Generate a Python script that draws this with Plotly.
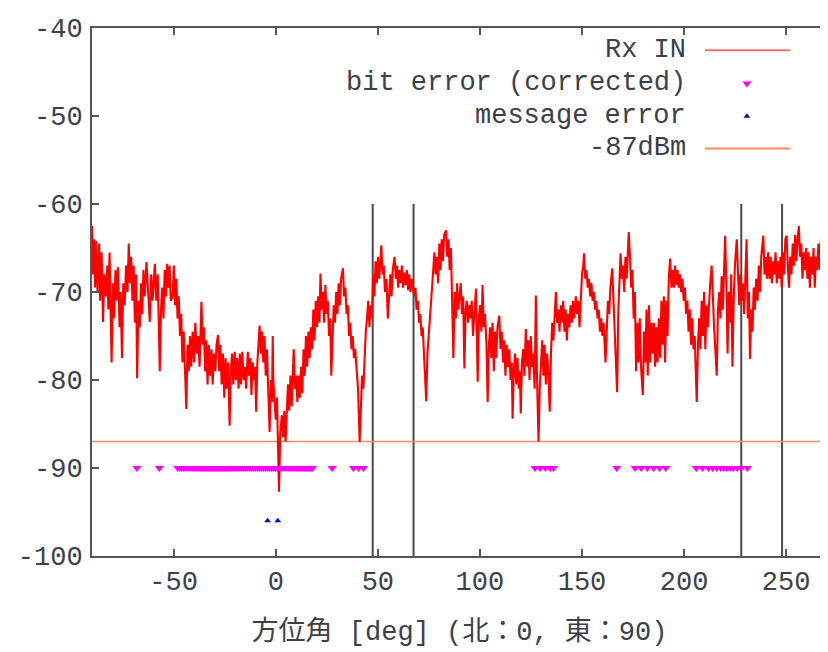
import plotly.graph_objects as go

# ---------------- data ----------------
rx_deg = [
 -90, -89.5, -89, -88.5, -88, -87.3, -86.5, -86, -85.3, -84.6, -84, -83.3, -82.5, -82, -81.4, -80.9, -80.4,
 -79.8, -79.2, -78.5, -78, -77.3, -76.5, -76, -75.3, -74.7, -74, -73.3, -72.6, -72, -71.4, -70.8, -70.2,
 -69.6, -69, -68.4, -67.9, -67.2, -66.6, -66, -65.4, -64.8, -64.2, -63.3, -62.5, -61.7, -61, -60.3,
 -59.2, -58.5, -57.8, -57.3, -56.8, -56.2, -55.6, -55, -54.4, -53.8, -53.2, -52.6, -52, -51.4,
 -50.5, -49.9, -49.3, -48.7, -48.1, -47.5, -46.9, -46.3, -45.7, -45.1, -44.5, -43.8, -43.2, -42.6,
 -42, -41.4, -40.7, -40, -39.4, -38.7, -38, -37.3, -36.4, -35.8, -35.2, -34.6, -34, -33.4, -32.8,
 -32.2, -31.5, -30.9, -30.3, -29.6, -29, -28.3, -27.7, -27.1, -26.5, -25.9, -25.2, -24.6, -24, -23.3,
 -22.6, -22, -21.4, -20.8, -20.1, -19.5, -18.9, -18.2, -17.6, -17, -16.4, -15.7, -15.1, -14.5, -13.7,
 -13.1, -12.4, -11.9, -11.3, -10.7, -10.1, -9.6, -9, -8.4, -7.9, -7.3, -6.7, -6.1, -5.5, -4.9, -4.3,
 -3.7, -3.0, -2.4, -1.8, -1.5, -1.2, -0.6, 0, 0.6, 1.2, 1.6, 2.2, 3.0,
 3.6, 4.2, 4.8, 5.4, 6.0, 6.6, 7.2, 7.8, 8.4, 8.8, 9.4, 10.0, 10.6, 11.2, 11.8, 12.4, 13.0, 13.6,
 14.2, 14.8, 15.4, 16.0, 16.6, 17.2, 17.8, 18.4, 19.0, 19.6, 20.2, 20.8, 21.4, 21.9, 22.5, 23.1,
 23.7, 24.3, 24.9, 25.5, 26.1, 26.7, 27.2, 27.8, 28.4, 29.0, 29.6, 30.2, 30.8, 31.4, 32.0, 32.9,
 33.5, 34.1, 34.7, 35.3, 35.9, 36.5, 37.1, 37.7, 38.3, 38.9, 39.5, 40.3, 41.1, 41.7, 42.3, 42.9,
 43.5, 44.1, 44.7, 45.3, 45.9, 46.5, 47.1, 47.7, 48.3, 48.9, 49.5, 50.1, 50.7, 51.3, 51.7, 52.3,
 52.9, 53.5, 54.2, 54.9, 55.5, 56.1, 56.7, 57.3, 58.2, 58.8, 59.4, 60.0, 60.6, 61.2, 61.8, 62.4,
 63.0, 63.6, 64.2, 64.8, 65.4, 66.0, 66.6, 67.2, 67.8, 68.4, 69.0, 69.6, 70.2, 70.8, 71.4, 72.0,
 72.6, 73.2, 73.7, 74.3, 74.9, 75.5, 76.1, 76.7, 77.3, 77.7, 78.3, 78.9, 79.5, 80.1, 80.7, 81.3,
 81.9, 82.5, 83.4, 84.0, 84.6, 85.2, 85.8, 86.4, 87.0, 87.6, 88.2, 88.8, 89.4, 90.0,
 90.6, 91.2, 91.8, 92.4, 93.0, 93.6, 94.2, 94.8, 95.4, 96.0, 96.6, 97.3, 98.1, 98.9, 99.5, 100.1,
 100.7, 101.3, 101.9, 102.5, 103.2, 103.8, 104.4, 105.0, 105.6, 106.2, 106.8, 107.4, 108.0, 108.6,
 109.5, 110.1, 110.7, 111.3, 111.9, 112.5, 113.1, 113.7, 114.4, 115.0, 115.6, 116.0, 116.6, 117.2,
 117.8, 118.4, 119.0, 119.6, 120.0, 120.6, 121.2, 121.8, 122.5, 123.1, 123.7, 124.3, 124.9, 125.5,
 126.1, 126.8, 127.4, 128.0, 128.7, 129.3, 129.9, 130.5, 131.1, 131.7, 132.3, 132.9, 133.5, 134.2,
 134.8, 135.4, 136.0, 136.6, 137.2, 137.8, 138.4, 139.0, 139.6, 140.2, 140.8, 141.4, 142.0, 142.6,
 143.2, 143.8, 144.4, 145.0, 145.6, 146.2, 147.0, 147.6, 148.2, 148.8, 149.4, 150.0, 150.6, 151.0,
 151.6, 152.2, 152.8, 153.4, 154.0, 154.6, 155.2, 155.8, 156.4, 157.0, 157.6, 158.2, 158.8, 159.4,
 160.0, 160.6, 161.5, 162.1, 162.7, 163.3, 163.9, 164.8, 165.4, 166.0, 166.6, 167.2, 167.8, 168.4,
 168.9, 169.5, 170.1, 170.7, 171.3, 171.9, 172.9,
 173.5, 174.1, 174.7, 175.3, 175.9, 176.5, 177.1, 177.7, 178.3, 178.9, 179.8, 180.4, 181.0, 181.6,
 182.2, 182.8, 183.4, 184.0, 184.6, 185.2, 185.8, 186.4, 187.0, 187.6, 188.3, 188.9, 189.5, 190.1,
 190.7, 191.3, 191.9, 192.5, 193.2, 193.8, 194.4, 195.0, 195.6, 196.2, 196.8, 197.4, 198.0, 198.6,
 199.2, 199.8, 200.4, 201.0, 201.6, 202.2, 202.8, 203.4, 204.0, 204.6, 205.2, 205.8, 206.2, 206.8,
 207.4, 208.0, 208.6, 209.2, 209.8, 210.4, 211.0, 211.6, 212.2, 212.8, 213.5, 214.1, 214.7, 215.4,
 216.0, 216.6, 217.2, 217.8, 218.4, 219.0, 219.6, 220.1, 220.7, 221.3, 221.9, 222.5, 223.1, 223.7,
 224.3, 224.9, 225.8, 226.4, 227.0, 227.6, 228.2, 228.8, 229.4, 230.0, 230.6, 231.2, 231.8, 232.3,
 232.9, 233.5, 234.1, 234.7, 235.3, 236.0, 236.6, 237.2, 237.8, 238.8, 239.4, 240.0, 240.6, 241.2,
 241.8, 242.4, 243.0, 243.6, 244.2, 244.8, 245.4, 246.0, 246.6, 247.2, 247.8, 248.4, 249.0, 249.6,
 250.2, 250.8, 251.4, 252.0, 252.6, 253.2, 253.8, 254.4, 255.0, 255.6, 256.2, 256.8, 257.4, 258.0,
 258.6, 259.2, 259.8, 260.4, 261.0, 261.6, 262.2, 262.8, 263.4, 264.0, 264.6, 265.2, 265.8, 266.4,
 267.0, 267.6, 268.2, 268.8, 269.4, 270.0,
]
rx_dbm = [
 -62.5, -68, -64, -69.5, -64.2, -70, -64.5, -71, -65.5, -73.4, -68, -70.5, -67, -72, -65.5, -74, -78,
 -69, -73, -67.5, -71, -67.2, -74, -70, -77.5, -69, -71.5, -67, -70, -64.5, -69, -66, -71,
 -67, -73.5, -68, -79.8, -71, -74, -69, -72.5, -67.5, -70.5, -66.6, -70, -73.4, -68, -71,
 -66.8, -71, -68, -73, -79, -72, -69.5, -73, -67.5, -70.5, -66.8, -69.5, -67, -71,
 -70.5, -67, -71.5, -68.5, -73, -70.5, -75, -72.5, -78, -74.5, -79.5, -83.3, -76, -79,
 -75, -78.5, -74.5, -78, -73.5, -77, -75, -78.5, -71.1, -76, -74, -79, -75.5, -80.5, -76,
 -79.5, -76.5, -80.5, -77, -79, -76, -74.9, -79, -76, -80.5, -77, -82, -77.5, -81, -78,
 -85.2, -79, -77, -80.5, -76.8, -80, -77.5, -81, -77, -80.5, -76.8, -80, -78.5, -81, -76.8,
 -79.5, -77.5, -81.7, -78, -80, -78.5, -83.6, -78, -76, -73.8, -77, -74.5, -78, -75, -79.5, -76.5,
 -81, -85.9, -80, -82.5, -75, -80, -82.5, -84.5, -82, -87, -92.7, -86, -84,
 -86.5, -83.5, -87, -84, -80.5, -83.5, -79.5, -83, -78.5, -76.5, -81, -79.5, -82.5, -79.5, -82, -78.5, -81.5, -76.5,
 -79.5, -75, -78.5, -74.5, -77.5, -74, -76.5, -72, -75.5, -71, -74, -70.5, -73.5, -67.9, -72, -70,
 -73.5, -69.2, -72.5, -71, -75, -73, -79.5, -74, -71.5, -73.5, -70, -72.5, -69, -71.5, -68.5, -67.3,
 -70.5, -69.5, -72.5, -71.5, -75, -73.5, -76.5, -75, -77.5, -76.5, -79, -81, -87, -82, -79.5, -81,
 -77.6, -74.5, -73, -71, -74, -71.5, -73, -68, -70.5, -66.5, -69, -66, -68.5, -65.5, -64.7, -68,
 -67, -70, -68.5, -73, -69.5, -68, -70.5, -67.5, -66, -68.5, -67, -69.5, -67.5, -69, -67, -69.5,
 -67.8, -69.2, -67.5, -69.8, -68, -70, -68.5, -69.5, -70.5, -69.5, -72, -71, -73.5, -72.5, -75, -74,
 -77, -79, -82.4, -77, -74.5, -73, -71, -69, -66.5, -65.5, -68, -66, -69, -64.5, -67.5, -64,
 -66.5, -63.5, -63, -66, -64, -67.5, -65, -70.5, -77.5, -70, -73, -69, -72, -70.5,
 -69, -72.5, -70.5, -78.7, -72, -71, -73.5, -71.5, -73, -71, -75, -72.5, -69.6, -80.2, -73, -71.5,
 -74.5, -69.2, -74, -72.5, -76, -82.5, -76, -74, -77.5, -73.5, -79, -74.5, -77.5, -74,
 -72.7, -76.5, -74.5, -78, -75.5, -79.5, -76, -78.5, -76.5, -80, -78, -84.4, -79, -77,
 -80.5, -77.5, -81, -79, -83.8, -78, -76.5, -79.5, -74.2, -78.5, -75.5, -80, -75, -78.5,
 -77, -81, -70.4, -80, -87, -81, -78, -75.5, -79.5, -76, -80.5, -77, -79, -83.6,
 -77, -73.5, -75.5, -72, -70, -73.5, -72, -74.5, -71.5, -73.5, -71, -74.5, -72, -75.5,
 -72.5, -74, -71.5, -73.5, -71, -73, -70.5, -72.5, -71, -74, -70.8, -68, -67, -65.6,
 -68.5, -67.5, -69.5, -68.5, -70.5, -69, -71, -70, -72, -71, -73, -72, -74.5, -73,
 -75, -73.5, -78, -73, -71, -72.5, -69.5, -67.3, -71, -74, -77, -81.4, -72, -68,
 -65.6, -68.5, -67, -70, -66, -68.5, -63.2,
 -66, -69.5, -67.5, -73, -70, -79, -73.5, -78, -73, -78.5, -81.7, -74.5, -78, -72,
 -79.5, -71.5, -78, -73.5, -77, -73.5, -78.5, -74, -78, -73, -77.5, -71, -76, -70.5,
 -78, -71, -75, -68.5, -66.2, -69.5, -67.5, -69.5, -67, -69.2, -67.5, -69.5, -68, -70,
 -68.5, -71, -69.5, -72.5, -71, -74.5, -72, -76, -73, -76.5, -75, -79, -82.5, -76,
 -73, -76.5, -71, -75, -70, -76.5, -71.5, -74, -70.5, -69, -67, -71.5, -74, -77,
 -79.5, -72, -70, -73, -68.2, -72, -68, -63.6, -69, -77, -70, -73.5, -68, -78.5,
 -71, -67, -64, -69, -71.5, -68, -71, -69, -72.5, -68.5, -64, -73, -70, -77.6,
 -72, -74.5, -69.5, -72, -68.5, -71, -67, -70, -66, -63.6, -68, -66, -68.5, -65.5,
 -68.5, -66, -69, -66.5, -68, -65.5, -69, -66.5, -68.5, -66, -69.5, -65.5, -68, -64,
 -63.6, -67, -69.5, -66, -68, -64.5, -67, -63.5, -66.5, -64, -62.5, -66, -64.5, -68.5,
 -65.5, -67.5, -65, -68.5, -65.5, -69.5, -66, -68, -65, -69.5, -66, -67.5, -64.5, -67.5,
 -64, -69, -65, -67, -64, -66.5,
]

bit_err_deg = [
 -68, -57,
 -48, -47, -46, -45, -44, -43, -42, -41, -40, -39, -38, -37, -36, -35, -34, -33, -32, -31, -30,
 -29, -28, -27, -26, -25, -24, -23, -22, -21, -20, -19, -18, -17, -16, -15, -14, -13, -12, -11,
 -10, -9, -8, -7, -6, -5, -4, -3, -2, -1, 0, 1, 2, 3, 4, 5, 6, 7, 8, 9, 10, 11, 12, 13, 14, 15,
 16, 17, 18,
 27.6, 38, 40.5, 43,
 127, 129.5, 132, 134.5, 136,
 167,
 176, 179, 182, 185, 188, 191,
 206, 209, 212, 214, 216, 218, 219.5, 221, 222.5, 224, 226, 228, 231,
]
bit_err_dbm = [-90] * len(bit_err_deg)

msg_err_deg = [-4, 1]
msg_err_dbm = [-96, -96]

threshold_dbm = -87
threshold_deg = [-90, 270]

sector_deg = [47.5, 67.5, 228, 248]
sector_dbm = [-100, -60]

x_ticks = [-50, 0, 50, 100, 150, 200, 250]
y_ticks = [-100, -90, -80, -70, -60, -50, -40]

legend_labels = ["Rx IN", "bit error (corrected)", "message error", "-87dBm"]

# ---------------- figure ----------------
RED = "#ff0000"
MAG = "#ff00ff"
BLUE = "#0010c0"
ORANGE = "#ff8c5a"
FRAME = "#555555"
TXT = "#3c4048"
MONO = "Liberation Mono, DejaVu Sans Mono, monospace"

fig = go.Figure()

# vertical sector lines
vx, vy = [], []
for d in sector_deg:
    vx += [d, d, None]
    vy += [sector_dbm[0], sector_dbm[1], None]
fig.add_trace(go.Scatter(x=vx, y=vy, mode="lines", line=dict(color="#4a4a4a", width=2),
                         showlegend=False, hoverinfo="skip"))

fig.add_trace(go.Scatter(x=threshold_deg, y=[threshold_dbm] * len(threshold_deg), mode="lines",
                         line=dict(color=ORANGE, width=1.5), name="-87dBm", showlegend=False))

fig.add_trace(go.Scatter(x=rx_deg, y=rx_dbm, mode="lines", line=dict(color=RED, width=2.1),
                         name="Rx IN", showlegend=False))

fig.add_trace(go.Scatter(x=bit_err_deg, y=bit_err_dbm, mode="markers",
                         marker=dict(symbol="triangle-down", size=8, color=MAG),
                         name="bit error (corrected)", showlegend=False))

fig.add_trace(go.Scatter(x=msg_err_deg, y=msg_err_dbm, mode="markers",
                         marker=dict(symbol="triangle-up", size=6, color=BLUE),
                         name="message error", showlegend=False))

# gnuplot-style key (text right, sample left), drawn on an invisible overlay axis [0,1]
rows = [0.958, 0.895, 0.833, 0.772]
key_text_x = 0.811
key_line = [0.834, 0.950]
key_mark_x = 0.891
for lab, ry in zip(legend_labels, rows):
    fig.add_annotation(x=key_text_x, y=ry, xref="paper", yref="paper", text=lab, showarrow=False,
                       xanchor="right", yanchor="middle", font=dict(family=MONO, size=27, color=TXT))
fig.add_trace(go.Scatter(x=key_line, y=[rows[0]] * 2, xaxis="x2", yaxis="y2", mode="lines",
                         line=dict(color="#f07070", width=2), showlegend=False, hoverinfo="skip"))
fig.add_trace(go.Scatter(x=key_line, y=[rows[3]] * 2, xaxis="x2", yaxis="y2", mode="lines",
                         line=dict(color=ORANGE, width=2), showlegend=False, hoverinfo="skip"))
fig.add_trace(go.Scatter(x=[key_mark_x], y=[rows[1]], xaxis="x2", yaxis="y2", mode="markers",
                         marker=dict(symbol="triangle-down", size=8, color=MAG),
                         showlegend=False, hoverinfo="skip"))
fig.add_trace(go.Scatter(x=[key_mark_x], y=[rows[2]], xaxis="x2", yaxis="y2", mode="markers",
                         marker=dict(symbol="triangle-up", size=6, color=BLUE),
                         showlegend=False, hoverinfo="skip"))

axis_common = dict(showline=True, linecolor=FRAME, linewidth=2, mirror="ticks", ticks="inside",
                   ticklen=7, tickwidth=1.5, tickcolor=FRAME, showgrid=False, zeroline=False,
                   automargin=False, tickfont=dict(family=MONO, size=27, color=TXT))

# the page body adds an 8px margin; the figure is sized so the plot frame lands where the
# reference frame is (x 92..827, y 28..556 in the 828x652 window)
fig.update_layout(
    width=820, height=644,
    margin=dict(l=84, r=1, t=20, b=96),
    paper_bgcolor="white", plot_bgcolor="white",
    xaxis=dict(range=[-90, 270], tickvals=x_ticks, ticktext=[str(v) for v in x_ticks],
               ticklabelstandoff=0,
               title=dict(text="方位角 [deg] (北：0, 東：90)", standoff=24,
                          font=dict(family="Liberation Mono, Noto Sans CJK JP", size=27, color=TXT)),
               **axis_common),
    yaxis=dict(range=[-100, -40], tickvals=y_ticks, ticktext=[str(v) for v in y_ticks],
               ticklabelstandoff=2, **axis_common),
    xaxis2=dict(range=[0, 1], overlaying="x", visible=False, fixedrange=True),
    yaxis2=dict(range=[0, 1], overlaying="y", visible=False, fixedrange=True),
)

fig.write_html("out.html")
